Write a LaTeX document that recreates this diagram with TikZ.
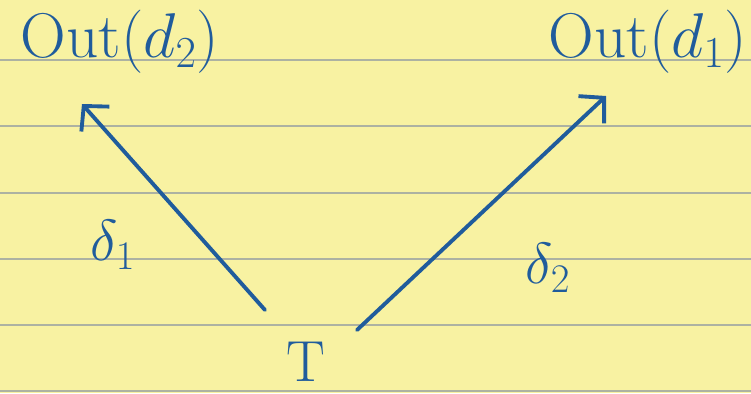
\RequirePackage{fix-cm}
\documentclass[tikz,border=0pt]{standalone}
\usepackage{tikz}
\usetikzlibrary{arrows.meta}
\definecolor{PadYellow}{HTML}{F8F2A2}
\definecolor{RuleGrey}{HTML}{ADB2A2}
\definecolor{InkBlue}{HTML}{205C9C}
\begin{document}
\begin{tikzpicture}[x=0.02cm,y=-0.02cm,>={Straight Barb[length=3.5mm,width=7.5mm]},
 ink/.style={text=InkBlue,font=\fontsize{33}{40}\selectfont,inner sep=0pt},
 big/.style={ink,font=\fontsize{36}{42}\selectfont},
 arc/.style={->,draw=InkBlue,line width=2.2pt,line cap=round,line join=round}]
\fill[PadYellow] (0,0) rectangle (751,393);
\useasboundingbox (0,0) rectangle (751,393);
\foreach \y in {60,126,193,259,325,391}
  \draw[RuleGrey,line width=0.8pt] (0,\y)--(751,\y);
\node[big] (out2) at (120,42) {Out$(d_2)$};
\node[big] (out1) at (648,42) {Out$(d_1)$};
\node[ink] (t) at (306,362) {T};
\node[ink] (del1) at (113,245) {$\delta_1$};
\node[ink] (del2) at (548,268) {$\delta_2$};
\coordinate (tl) at (265,310);
\coordinate (tr) at (357,330);
\coordinate (hl) at (82,104);
\coordinate (hr) at (606,96);
\draw[arc] (tl)--(hl);
\draw[arc] (tr)--(hr);
\end{tikzpicture}
\end{document}
